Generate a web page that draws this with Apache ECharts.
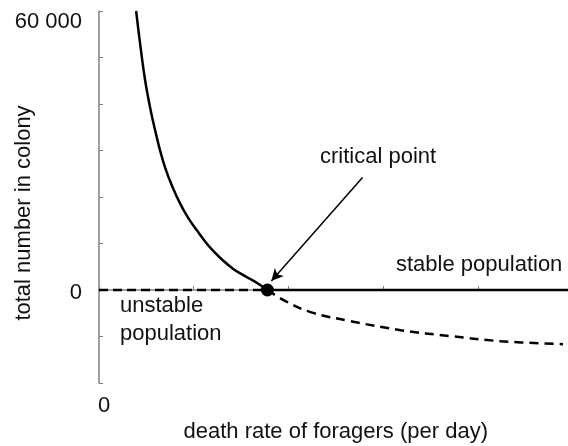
<!DOCTYPE html>
<html><head><meta charset="utf-8">
<script src="https://cdn.jsdelivr.net/npm/echarts@6/dist/echarts.min.js"></script>
<style>html,body{margin:0;padding:0;background:#fff}#c{width:568px;height:446px}</style>
</head><body><div id="c"></div>
<script>
// death rate (axis units) vs total number in colony
const stableCurve = [[0.392,60000],[0.44,52000],[0.487,45108],[0.54,39200],[0.593,34317],[0.645,30000],[0.698,26331],[0.775,22200],[0.857,18561],[0.945,15400],[1.037,12734],[1.12,10450],[1.206,8417],[1.31,6350],[1.418,4532],[1.51,3350],[1.598,2374],[1.69,1250],[1.778,0]];
const unstableCurve = [[1.778,0],[1.968,-2374],[2.233,-4748],[2.656,-6691],[3.185,-8633],[3.714,-9928],[4.243,-11007],[4.899,-11655]];
const zeroDashed = [[0,0],[1.778,0]];
const zeroSolid = [[1.778,0],[5,0]];
const criticalPoint = [[1.778,0]];
const arrowFrom = [2.783,24173];
const arrowTo = [1.82,1942];
const yTickLabels = {0:'0',60000:'60 000'};
const xTickLabels = {0:'0'};

const FONT = '"Liberation Sans", Arial, sans-serif';
const FS = 22;
const chart = echarts.init(document.getElementById('c'));
chart.setOption({
  animation:false,
  grid:{left:99,right:-4.5,top:11,bottom:63,containLabel:false,outerBoundsMode:'none'},
  xAxis:{type:'value',min:0,max:5,interval:1,
    name:'death rate of foragers (per day)',nameLocation:'middle',nameGap:38,nameMoveOverlap:false,
    nameTextStyle:{fontFamily:FONT,fontSize:FS,color:'#111'},
    axisLine:{lineStyle:{color:'#808080',width:1.5}},
    axisTick:{inside:true,length:4,lineStyle:{color:'#808080',width:1}},
    splitLine:{show:false},
    axisLabel:{margin:12,fontFamily:FONT,fontSize:FS,color:'#111',
      formatter:v=>xTickLabels[v]!==undefined?'{a|'+xTickLabels[v]+'}':'',
      rich:{a:{fontFamily:FONT,fontSize:FS,color:'#111',padding:[0,0,0,10]}}}
  },
  yAxis:{type:'value',min:-20000,max:60000,interval:10000,
    name:'total number in colony',nameLocation:'middle',nameGap:64,nameRotate:90,nameMoveOverlap:false,
    nameTextStyle:{fontFamily:FONT,fontSize:FS,color:'#111',padding:[0,32,0,0]},
    axisLine:{show:true,lineStyle:{color:'#808080',width:1.5}},
    axisTick:{show:true,inside:true,length:4,lineStyle:{color:'#808080',width:1}},
    splitLine:{show:false},
    axisLabel:{margin:17,fontFamily:FONT,fontSize:FS,color:'#111',
      formatter:v=>{ if(v===60000) return '{b|60 000}'; return yTickLabels[v]!==undefined?'{a|'+yTickLabels[v]+'}':''; },
      rich:{a:{fontFamily:FONT,fontSize:FS,color:'#111',padding:[6,0,0,0]},b:{fontFamily:FONT,fontSize:FS,color:'#111',padding:[22,0,0,0]}}}
  },
  series:[
    {type:'line',data:stableCurve,smooth:0.4,showSymbol:false,lineStyle:{color:'#000',width:2.5}},
    {type:'line',data:unstableCurve,smooth:0.4,showSymbol:false,lineStyle:{color:'#000',width:2.5,type:[9,6]}},
    {type:'line',data:zeroDashed,showSymbol:false,lineStyle:{color:'#000',width:2.5,type:[9,5]}},
    {type:'line',data:zeroSolid,showSymbol:false,lineStyle:{color:'#000',width:2.5},
      markLine:{silent:true,symbol:['none','arrow'],symbolSize:[9,12],
        lineStyle:{color:'#000',width:1.5,type:'solid'},label:{show:false},
        data:[[{coord:arrowFrom},{coord:arrowTo}]]}},
    {type:'scatter',data:criticalPoint,symbolSize:13,itemStyle:{color:'#000',opacity:1},z:5}
  ],
  graphic:[
    {type:'text',left:320,top:146,style:{text:'critical point',font:FS+'px '+FONT,fill:'#111'}},
    {type:'text',left:396,top:254,style:{text:'stable population',font:FS+'px '+FONT,fill:'#111'}},
    {type:'text',left:120,top:292,style:{text:'unstable\npopulation',font:FS+'px '+FONT,fill:'#111',lineHeight:28}}
  ]
});
</script></body></html>
